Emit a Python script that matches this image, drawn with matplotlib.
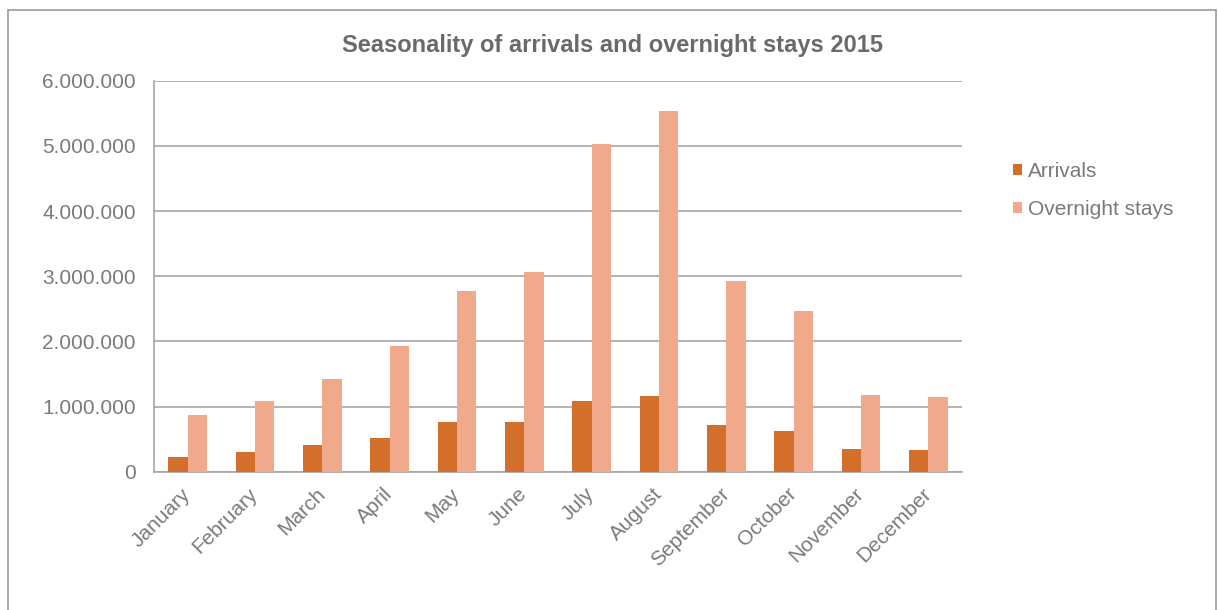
import numpy as np
import matplotlib
matplotlib.use("Agg")
import matplotlib.pyplot as plt
from matplotlib.patches import Rectangle
from matplotlib.ticker import FuncFormatter

# Data
months = ['January', 'February', 'March', 'April', 'May', 'June',
          'July', 'August', 'September', 'October', 'November', 'December']
arrivals = [220000, 300000, 415000, 510000, 770000, 770000,
            1080000, 1160000, 710000, 630000, 350000, 330000]
overnight = [870000, 1090000, 1420000, 1930000, 2770000, 3060000,
             5030000, 5540000, 2920000, 2460000, 1180000, 1140000]
yticks = [0, 1000000, 2000000, 3000000, 4000000, 5000000, 6000000]

c_arr = '#D46F2B'
c_ovr = '#F1A98B'
txt = '#7a7a7a'
grid = '#a6a6a6'

plt.rcParams['font.family'] = ['Liberation Sans', 'DejaVu Sans']

fig = plt.figure(figsize=(12.18, 6.10), dpi=100, facecolor='white')
ax = fig.add_axes([0.1264, 0.2267, 0.6634, 0.641])

x = np.arange(len(months))
w = 0.286
ax.bar(x - w / 2, arrivals, w, color=c_arr, label='Arrivals', zorder=3)
ax.bar(x + w / 2, overnight, w, color=c_ovr, label='Overnight stays', zorder=3)

ax.set_xlim(-0.5, len(months) - 0.5)
ax.set_ylim(0, 6000000)
ax.set_yticks(yticks)
ax.yaxis.set_major_formatter(FuncFormatter(lambda v, p: f"{int(v):,}".replace(',', '.')))
ax.yaxis.grid(True, color=grid, linewidth=1.2, zorder=0)
ax.set_xticks(x)
ax.set_xticklabels(months, rotation=45, ha='right', va='center', rotation_mode='anchor')

for s in ['top', 'right']:
    ax.spines[s].set_visible(False)
for s in ['left', 'bottom']:
    ax.spines[s].set_color(grid)
    ax.spines[s].set_linewidth(1.2)

ax.tick_params(axis='y', length=0, pad=13, labelsize=15, labelcolor=txt)
ax.tick_params(axis='x', length=0, pad=14, labelsize=15, labelcolor=txt)

fig.text(0.5025, 0.925, 'Seasonality of arrivals and overnight stays 2015',
         ha='center', va='center', fontsize=17, fontweight='bold', color='#6a6a6a')

leg = ax.legend(loc='upper left', bbox_to_anchor=(1013 / 1218, 1 - 162 / 610),
                bbox_transform=fig.transFigure, frameon=False, fontsize=15,
                handlelength=0.45, handleheight=0.45, handletextpad=0.25,
                labelspacing=0.92, borderaxespad=0, borderpad=0)
for t in leg.get_texts():
    t.set_color(txt)

# outer chart border
fig.patches.append(Rectangle((8 / 1218, -0.1), 1208 / 1218, 1.1 - 10 / 610,
                             transform=fig.transFigure, fill=False,
                             edgecolor='#9a9a9a', linewidth=1.2))

fig.savefig('out.png', dpi=100, facecolor='white')
